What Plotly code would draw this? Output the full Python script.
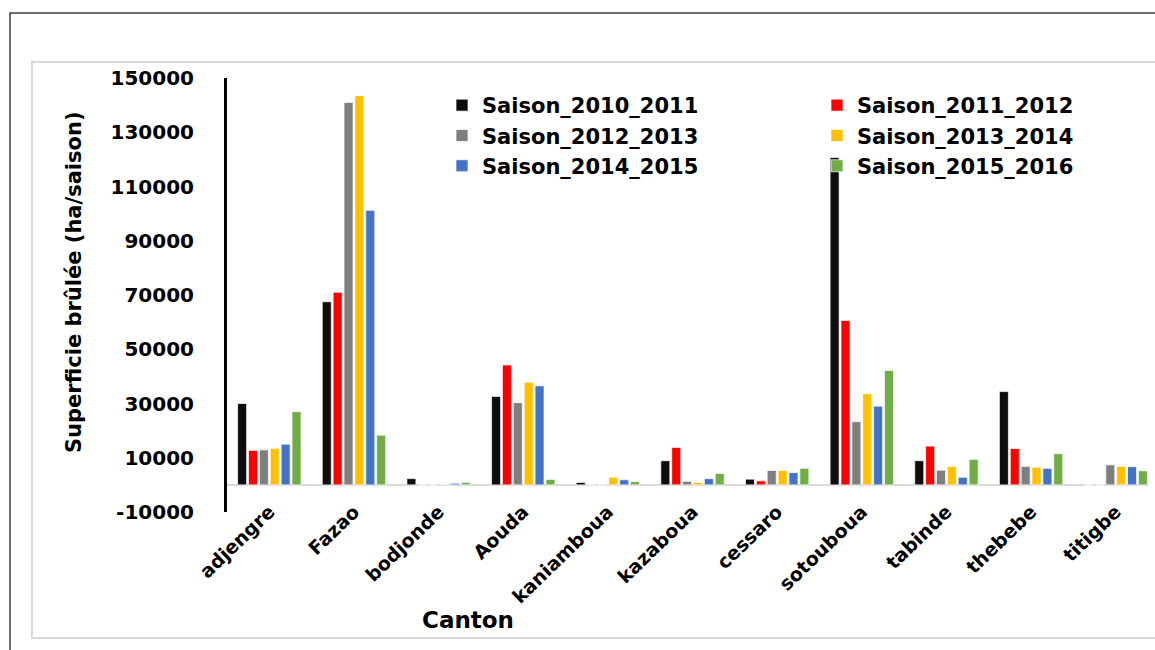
import plotly.graph_objects as go

cantons = ["adjengre", "Fazao", "bodjonde", "Aouda", "kaniamboua", "kazaboua",
           "cessaro", "sotouboua", "tabinde", "thebebe", "titigbe"]

saison_2010_2011 = [30000, 67500, 2300, 32600, 900, 8900, 2100, 120700, 8900, 34400, 0]
saison_2011_2012 = [12700, 71000, 0, 44200, 0, 13800, 1500, 60600, 14300, 13400, 0]
saison_2012_2013 = [12900, 141000, 0, 30300, 0, 1300, 5300, 23300, 5400, 6800, 7400]
saison_2013_2014 = [13500, 143500, 200, 37800, 2800, 900, 5300, 33600, 6800, 6500, 6800]
saison_2014_2015 = [15000, 101200, 600, 36500, 1900, 2300, 4500, 29000, 2800, 6100, 6700]
saison_2015_2016 = [27000, 18300, 900, 2000, 1200, 4200, 6100, 42200, 9400, 11500, 5200]

series_names = ["Saison_2010_2011", "Saison_2011_2012", "Saison_2012_2013",
                "Saison_2013_2014", "Saison_2014_2015", "Saison_2015_2016"]
series_values = [saison_2010_2011, saison_2011_2012, saison_2012_2013,
                 saison_2013_2014, saison_2014_2015, saison_2015_2016]
series_colors = ["#0d0d0d", "#ff0000", "#7f7f7f", "#ffc000", "#4472c4", "#70ad47"]
series_legend = ["legend", "legend2", "legend", "legend2", "legend", "legend2"]

y_tickvals = [-10000, 10000, 30000, 50000, 70000, 90000, 110000, 130000, 150000]
y_ticktext = ["-10000", "10000", "30000", "50000", "70000", "90000", "110000", "130000", "150000"]

FONT = "DejaVu Sans"
W, H = 1155, 650
L, R, T, B = 227, 6, 78, 138
PW, PH = W - L - R, H - T - B


def px(x):
    return (x - L) / PW


def py(y):
    return (H - B - y) / PH


fig = go.Figure()
for name, vals, col, lg in zip(series_names, series_values, series_colors, series_legend):
    fig.add_trace(go.Bar(
        x=cantons, y=vals, name=name, legend=lg,
        marker=dict(color=col, line=dict(color="rgba(255,255,255,0.7)", width=1)),
    ))

legend_font = dict(family=FONT, size=21, color="black", weight="bold")

fig.update_layout(
    width=W, height=H,
    margin=dict(l=L, r=R, t=T, b=B, autoexpand=False),
    paper_bgcolor="white", plot_bgcolor="white",
    barmode="group", bargap=0.229, bargroupgap=0.17,
    font=dict(family=FONT, color="black", weight="bold"),
    xaxis=dict(
        range=[-0.5, -0.5 + PW / 84.64],
        showgrid=False, showline=False, ticks="",
        tickangle=-44, automargin=False, ticklabelstandoff=-16,
        tickfont=dict(family=FONT, size=19, color="black", weight="bold"),
    ),
    yaxis=dict(
        range=[-10000, 150000], automargin=False,
        tickvals=y_tickvals, ticktext=y_ticktext,
        showgrid=False,
        showline=True, linecolor="black", linewidth=3,
        zeroline=True, zerolinecolor="#d9d9d9", zerolinewidth=2,
        ticks="", ticklabelstandoff=26,
        tickfont=dict(family=FONT, size=20, color="black", weight="bold"),
    ),
    legend=dict(
        x=px(442), y=py(85), xanchor="left", yanchor="top",
        orientation="v", itemwidth=30, tracegroupgap=0,
        font=legend_font, bgcolor="rgba(0,0,0,0)",
    ),
    legend2=dict(
        x=px(817), y=py(85), xanchor="left", yanchor="top",
        orientation="v", itemwidth=30, tracegroupgap=0,
        font=legend_font, bgcolor="rgba(0,0,0,0)",
    ),
    annotations=[
        dict(text="Superficie brûlée (ha/saison)", xref="paper", yref="paper",
             x=px(74), y=py(282), textangle=-90, showarrow=False,
             xanchor="center", yanchor="middle",
             font=dict(family=FONT, size=21, color="black", weight="bold")),
        dict(text="Canton", xref="paper", yref="paper",
             x=px(468), y=py(620), showarrow=False,
             xanchor="center", yanchor="middle",
             font=dict(family=FONT, size=23, color="black", weight="bold")),
    ],
    shapes=[
        dict(type="rect", xref="paper", yref="paper", layer="below",
             x0=px(10), x1=px(1175), y0=py(670), y1=py(13),
             line=dict(color="#404040", width=1.5)),
        dict(type="rect", xref="paper", yref="paper", layer="below",
             x0=px(32), x1=px(1175), y0=py(638), y1=py(62),
             line=dict(color="#d9d9d9", width=2)),
    ],
)

fig.write_html("out.html")
